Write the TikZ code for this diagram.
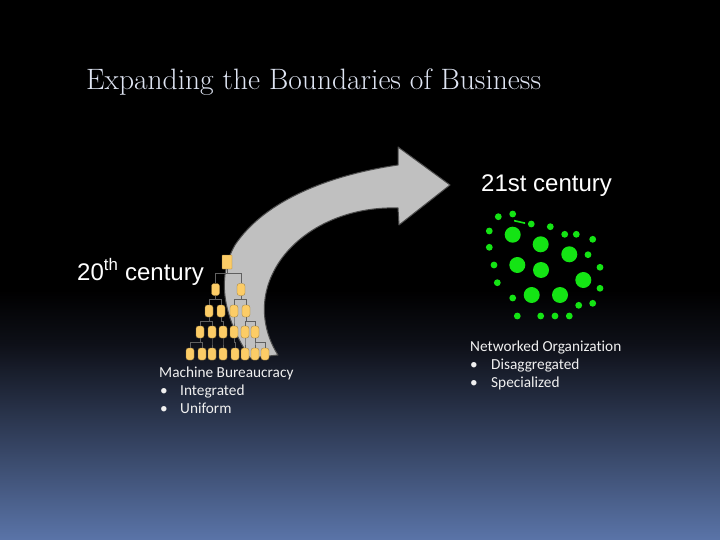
\documentclass[tikz,border=0pt]{standalone}
\usepackage{fontspec}
\newfontfamily\arialf{Liberation Sans}
\newfontfamily\calf[Ligatures=NoCommon]{Carlito}
\definecolor{bgblue}{RGB}{90,116,168}
\definecolor{bgmid}{RGB}{14,16,24}
\definecolor{titlec}{RGB}{222,228,242}
\definecolor{arrowgray}{RGB}{192,192,192}
\definecolor{boxor}{RGB}{252,204,102}
\definecolor{dotgreen}{RGB}{20,228,20}
\tikzset{
  obox/.style={draw=boxor!60!black, line width=0.3pt, fill=boxor, rounded corners=2.5pt, minimum width=8pt, minimum height=12pt, inner sep=0pt},
  topbox/.style={obox, rounded corners=0.5pt, minimum width=10pt, minimum height=14pt},
  orgline/.style={draw=gray!75!black, line width=0.6pt},
  bigtxt/.style={font=\arialf\fontsize{24}{28}\selectfont, text=white, inner sep=0pt, anchor=base west},
  smalltxt/.style={font=\calf\fontsize{15.3}{18}\selectfont, text=white!94!black, inner sep=0pt, anchor=base west},
}
\begin{document}
\begin{tikzpicture}[x=1pt,y=-1pt]
\useasboundingbox (0,0) rectangle (720,540);
% background
\fill[black] (0,0) rectangle (720,540);
\shade[top color=black, bottom color=bgmid] (0,290) rectangle (720,345);
\shade[top color=bgmid, bottom color=bgblue] (0,344.5) rectangle (720,540);
% title
\node[font=\fontsize{29.5}{34}\selectfont, text=titlec, inner sep=0pt, anchor=base west] (title) at (86,90) {Expanding the Boundaries of Business};
% curved arrow
\filldraw[fill=arrowgray, draw=black!70, line width=1pt, line join=round]
  (250,358) .. controls (225,320) and (215,280) .. (235,245)
  .. controls (265,200) and (330,175) .. (398,165)
  -- (398,147) -- (450,185) -- (399,225) -- (398,208)
  .. controls (340,206) and (290,235) .. (272,275)
  .. controls (258,305) and (265,335) .. (278,355) -- cycle;
% labels
\node[bigtxt] (c21) at (481,192) {21st century};
\node[bigtxt] (c20) at (77,280) {20\textsuperscript{th} century};
% org chart
\node[topbox] (b0) at (227,262) {};
\foreach \x [count=\i] in {215.5,241} \node[obox] (r2-\i) at (\x,289.5) {};
\foreach \x [count=\i] in {209,221,234,246} \node[obox] (r3-\i) at (\x,311) {};
\foreach \x [count=\i] in {200,212,223,234,245,255} \node[obox] (r4-\i) at (\x,332) {};
\foreach \x [count=\i] in {190,202,212,223,235,245,255,265} \node[obox] (r5-\i) at (\x,354) {};
\foreach \c in {1,2} \draw[orgline] (b0.south) -- ++(0,4) -| (r2-\c.north);
\foreach \p/\c in {1/1,1/2,2/3,2/4} \draw[orgline] (r2-\p.south) -- ++(0,4) -| (r3-\c.north);
\foreach \p/\c in {1/1,1/2,2/3,3/4,4/5,4/6} \draw[orgline] (r3-\p.south) -- ++(0,4) -| (r4-\c.north);
\foreach \p/\c in {1/1,1/2,2/3,3/4,4/5,5/6,6/7,6/8} \draw[orgline] (r4-\p.south) -- ++(0,4) -| (r5-\c.north);
% network dots
\foreach \x/\y in {512.7/234.7,540.7/244.3,569.3/254.3,517.3/265,541/270,583.3/280,531.7/295,560/295}
  \fill[dotgreen] (\x,\y) circle (8);
\foreach \x/\y in {498.3/216.7,512.7/214,531.3/224,550.3/226.7,489.3/231,564.7/234.3,576.3/234.3,592.7/239.3,489.3/247.3,588/254.7,494/265,600/267.3,497.3/282.7,600/288.3,512.7/298,578.7/305.3,592.7/303.3,517.3/316,540.7/316,555/316,569.3/316}
  \fill[dotgreen] (\x,\y) circle (3.4);
\fill[dotgreen] (514,219.8) -- (525,222.3) -- (525,224) -- (514,221.5) -- cycle;
% bullet texts left
\node[smalltxt] (mb) at (159,377) {Machine Bureaucracy};
\node[smalltxt] (mb1) at (160,395) {\textbullet};
\node[smalltxt] (mb1t) at (180,395) {Integrated};
\node[smalltxt] (mb2) at (160,413) {\textbullet};
\node[smalltxt] (mb2t) at (180,413) {Uniform};
% bullet texts right
\node[smalltxt] (no) at (470,351) {Networked Organization};
\node[smalltxt] (no1) at (470,369) {\textbullet};
\node[smalltxt] (no1t) at (491,369) {Disaggregated};
\node[smalltxt] (no2) at (470,387) {\textbullet};
\node[smalltxt] (no2t) at (491,387) {Specialized};
\end{tikzpicture}
\end{document}
